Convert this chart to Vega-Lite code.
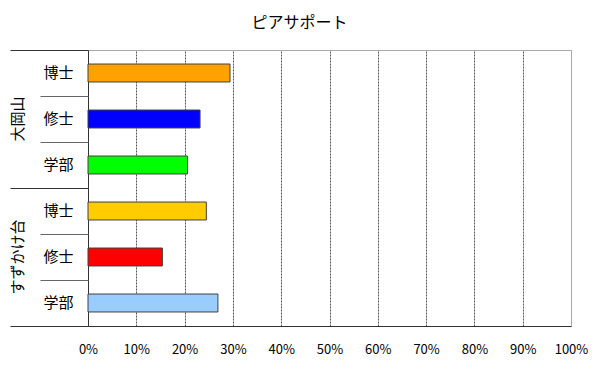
{
  "$schema": "https://vega.github.io/schema/vega-lite/v6.json",
  "autosize": {"type": "none"},
  "width": 483,
  "height": 276,
  "padding": {"left": 88, "top": 50, "right": 29, "bottom": 46},
  "background": "white",
  "title": {"text": "ピアサポート", "font": "Noto Sans CJK JP", "fontSize": 16, "fontWeight": "normal", "color": "#000000", "anchor": "middle", "dx": -30, "offset": 19},
  "config": {
    "view": {"stroke": "#a8a8a8", "strokeWidth": 1},
    "axis": {"labelFont": "Noto Sans CJK JP", "labelColor": "#000000", "title": null}
  },
  "data": {
    "values": [
      {"key": "大岡山|博士", "value": 29.4},
      {"key": "大岡山|修士", "value": 23.2},
      {"key": "大岡山|学部", "value": 20.6},
      {"key": "すずかけ台|博士", "value": 24.5},
      {"key": "すずかけ台|修士", "value": 15.4},
      {"key": "すずかけ台|学部", "value": 26.9}
    ]
  },
  "layer": [
    {
      "mark": {"type": "bar", "height": {"band": 0.39}, "stroke": "#404040", "strokeWidth": 1},
      "encoding": {
        "y": {
          "field": "key", "type": "nominal", "sort": null,
          "scale": {"domain": ["大岡山|博士", "大岡山|修士", "大岡山|学部", "すずかけ台|博士", "すずかけ台|修士", "すずかけ台|学部"], "paddingInner": 0, "paddingOuter": 0},
          "axis": {"orient": "left", "labelExpr": "split(datum.value, '|')[1]", "ticks": false, "labelFontSize": 15, "labelPadding": 15, "domainColor": "#333333", "domainWidth": 1, "grid": false}
        },
        "x": {
          "field": "value", "type": "quantitative",
          "scale": {"domain": [0, 100]},
          "axis": {
            "values": [0, 10, 20, 30, 40, 50, 60, 70, 80, 90, 100],
            "labelExpr": "datum.value + '%'",
            "labelFontSize": 13,
            "labelPadding": 17,
            "labelFlush": false,
            "ticks": false,
            "domainColor": "#333333",
            "grid": true,
            "gridDash": [2, 1],
            "gridColor": "#555555",
            "gridOpacity": {"condition": {"test": "datum.value == 0 || datum.value == 100", "value": 0}, "value": 1}
          }
        },
        "color": {
          "field": "key", "type": "nominal", "legend": null,
          "scale": {
            "domain": ["大岡山|博士", "大岡山|修士", "大岡山|学部", "すずかけ台|博士", "すずかけ台|修士", "すずかけ台|学部"],
            "range": ["#ffa200", "#0000ff", "#00ff00", "#ffcc00", "#ff0000", "#99ccff"]
          }
        }
      }
    },
    {
      "mark": {"type": "rule", "opacity": 0},
      "encoding": {
        "y": {"field": "key", "type": "nominal", "sort": null,
          "axis": {"orient": "left", "labels": false, "domain": false, "grid": false, "ticks": true, "tickBand": "extent", "tickSize": 48, "tickColor": "#666666", "tickWidth": 1}}
      }
    },
    {
      "mark": {"type": "rule", "opacity": 0},
      "encoding": {
        "y": {"field": "key", "type": "nominal", "sort": null,
          "axis": {"orient": "left", "values": ["大岡山|博士", "すずかけ台|博士"], "bandPosition": 0, "labels": false, "domain": false, "grid": false, "ticks": true, "tickSize": 78, "tickColor": "#333333", "tickWidth": 1}}
      }
    },
    {
      "mark": {"type": "rule", "opacity": 0},
      "encoding": {
        "y": {"field": "key", "type": "nominal", "sort": null,
          "axis": {"orient": "left", "values": ["すずかけ台|学部"], "bandPosition": 1, "labels": false, "domain": false, "grid": false, "ticks": true, "tickSize": 78, "tickColor": "#333333", "tickWidth": 1}}
      }
    },
    {
      "mark": {"type": "rule", "opacity": 0},
      "encoding": {
        "y": {"field": "key", "type": "nominal", "sort": null,
          "axis": {"orient": "left", "values": ["大岡山|修士", "すずかけ台|修士"], "labelExpr": "split(datum.value, '|')[0]", "labelAngle": 270, "labelAlign": "center", "labelBaseline": "middle", "labelFontSize": 15, "labelPadding": 71, "ticks": false, "domain": false, "grid": false}}
      }
    }
  ],
  "resolve": {"axis": {"y": "independent"}}
}
